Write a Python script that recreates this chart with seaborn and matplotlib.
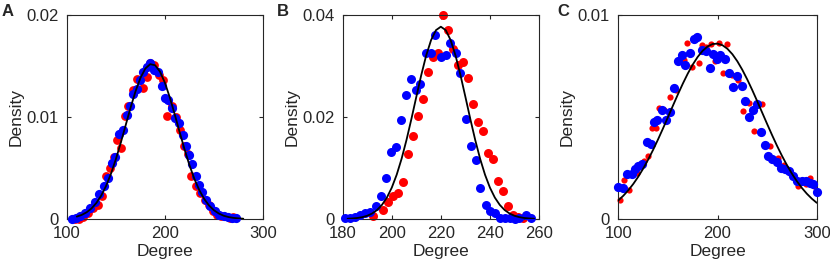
import numpy as np
import pandas as pd
import matplotlib
matplotlib.use("Agg")
import matplotlib.pyplot as plt
import seaborn as sns

# ---- panel A data ----
a_red_x = [108.5, 111.9, 116.3, 121.0, 126.4, 131.2, 135.6, 140.0, 144.1, 148.1, 151.5, 154.9,
           159.3, 162.7, 167.1, 171.9, 177.3, 181.4, 184.7, 188.8, 194.2, 198.3, 201.7, 206.8,
           211.2, 215.3, 219.3, 223.7, 227.1, 231.5, 235.6, 240.7, 245.1, 249.2, 253.2, 257.6,
           266.1, 269.5]
a_red_y = [0.0, 0.0, 0.0002, 0.00059, 0.00108, 0.0014, 0.00222, 0.00424, 0.00499, 0.00604,
           0.00776, 0.00695, 0.01011, 0.01109, 0.01266, 0.01374, 0.01289, 0.01396, 0.01533,
           0.0151, 0.01413, 0.01364, 0.01011, 0.01103, 0.00998, 0.00874, 0.00711, 0.00639,
           0.00418, 0.0032, 0.00254, 0.00189, 0.0014, 0.00075, 0.00042, 0.00033, 0.0001, 0.0002]
a_blue_x = [105.1, 109.5, 113.6, 118.6, 123.7, 128.8, 133.2, 138.0, 141.4, 145.8, 149.2, 153.6,
            157.6, 161.0, 164.4, 167.8, 171.2, 174.6, 178.0, 181.4, 184.7, 188.8, 193.2, 196.6,
            200.0, 203.4, 206.8, 210.2, 214.6, 218.0, 221.4, 224.7, 228.1, 231.5, 234.9, 238.3,
            242.4, 246.4, 250.8, 255.3, 260.0, 264.4, 268.8, 272.9]
a_blue_y = [0.0, 0.0001, 0.00026, 0.00059, 0.00108, 0.00166, 0.00248, 0.0032, 0.00401, 0.00548,
            0.00604, 0.00835, 0.00874, 0.01021, 0.01109, 0.01223, 0.01272, 0.01364, 0.01445,
            0.01494, 0.01533, 0.01462, 0.01445, 0.01305, 0.01191, 0.01168, 0.01086, 0.00989,
            0.0094, 0.00825, 0.00711, 0.0063, 0.00542, 0.00424, 0.00336, 0.00261, 0.00189,
            0.00124, 0.00075, 0.00042, 0.00026, 0.00016, 0.00013, 0.00007]
a_fit_x = list(range(110, 285, 5))
a_fit_y = [0.000236, 0.000399, 0.000653, 0.00103, 0.00157, 0.00230, 0.00326, 0.00446, 0.00589,
           0.00750, 0.00922, 0.01094, 0.01252, 0.01383, 0.01475, 0.01518, 0.01507, 0.01444,
           0.01335, 0.01191, 0.01026, 0.00853, 0.00684, 0.00529, 0.00395, 0.00285, 0.00198,
           0.00133, 0.00086, 0.00054, 0.00032, 0.00019, 0.00011, 0.00006, 0.00003]

# ---- panel B data ----
b_red_x = [192.5, 196.3, 198.6, 200.6, 202.6, 204.7, 206.7, 208.7, 210.8, 212.8, 214.8, 216.9,
           218.9, 220.9, 223.0, 225.0, 227.1, 229.1, 231.1, 233.2, 235.2, 237.2, 239.3, 241.3,
           243.3, 245.4, 247.4, 249.4, 251.5, 253.5]
b_red_y = [0.00065, 0.0018, 0.0033, 0.0046, 0.0051, 0.0072, 0.0127, 0.0163, 0.0202, 0.0236,
           0.0288, 0.0317, 0.0326, 0.0399, 0.0371, 0.0333, 0.0302, 0.0307, 0.0276, 0.0225,
           0.0191, 0.0172, 0.0129, 0.0118, 0.0075, 0.0054, 0.0025, 0.0008, 0.0004, 0.0001]
b_blue_x = [181.0, 183.0, 185.0, 187.0, 189.0, 191.1, 193.6, 195.6, 197.6, 199.5, 201.7, 203.6,
            205.8, 207.7, 209.7, 211.7, 213.8, 215.8, 217.8, 219.9, 221.9, 223.9, 226.0, 228.0,
            230.2, 232.2, 234.2, 236.1, 238.3, 239.9, 242.0, 244.0, 246.0, 248.0, 250.1, 252.0,
            254.6, 256.9]
b_blue_y = [0.0001, 0.0002, 0.0004, 0.0007, 0.0012, 0.0014, 0.0025, 0.0046, 0.0080, 0.0132,
            0.0142, 0.0194, 0.0243, 0.0275, 0.0253, 0.0265, 0.0326, 0.0325, 0.0361, 0.0318,
            0.0322, 0.0346, 0.0325, 0.0286, 0.0196, 0.0144, 0.0116, 0.0061, 0.0027, 0.0015,
            0.0012, 0.0002, 0.0002, 0.0002, 0.0, 0.0002, 0.0008, 0.0002]
b_fit_x = list(range(182, 260, 2))
b_fit_y = [0.000054, 0.000106, 0.000200, 0.000363, 0.000636, 0.00108, 0.00176, 0.00277, 0.00420,
           0.00615, 0.00868, 0.01181, 0.01550, 0.01962, 0.02395, 0.02820, 0.03202, 0.03506,
           0.03702, 0.03770, 0.03702, 0.03506, 0.03202, 0.02820, 0.02395, 0.01962, 0.01550,
           0.01181, 0.00868, 0.00615, 0.00420, 0.00277, 0.00176, 0.00108, 0.000636, 0.000363,
           0.000200, 0.000106, 0.000054]

# ---- panel C data ----
c_red_x = [101.7, 105.7, 110.4, 118.5, 126.2, 130.3, 133.6, 138.0, 141.3, 146.0, 152.1, 158.2,
           163.9, 166.6, 169.0, 174.0, 181.7, 184.0, 188.4, 193.4, 197.5, 201.8, 205.2, 209.9,
           214.3, 221.0, 225.4, 232.1, 236.8, 245.2, 253.0, 261.3, 267.0, 273.1, 281.5, 289.2,
           293.3, 297.6]
c_red_y = [0.00095, 0.00192, 0.00144, 0.00225, 0.00282, 0.00307, 0.00445, 0.00445, 0.00546,
           0.00535, 0.00597, 0.00633, 0.0078, 0.00777, 0.00861, 0.00747, 0.00767, 0.00853,
           0.00845, 0.00856, 0.00772, 0.00865, 0.00715, 0.00856, 0.00706, 0.00682, 0.0053,
           0.00568, 0.00429, 0.00564, 0.00356, 0.00299, 0.00266, 0.00225, 0.0016, 0.00171,
           0.00201, 0.0016]
c_blue_x = [100.0, 104.4, 108.4, 113.4, 116.8, 120.2, 123.5, 128.6, 132.6, 136.0, 139.3, 143.7,
            148.1, 152.1, 156.1, 159.8, 163.9, 167.2, 172.3, 176.3, 179.7, 184.0, 188.4, 192.4,
            195.8, 199.2, 202.5, 207.6, 211.6, 215.9, 220.0, 224.4, 227.7, 231.8, 236.1, 240.2,
            243.5, 247.9, 251.3, 254.6, 259.7, 263.7, 268.1, 272.4, 276.5, 280.5, 284.9, 289.2,
            293.3, 296.6, 300.0]
c_blue_y = [0.00157, 0.00152, 0.00222, 0.00222, 0.00245, 0.00258, 0.00269, 0.00375, 0.00369,
            0.00475, 0.00486, 0.00535, 0.00483, 0.00524, 0.00641, 0.00772, 0.00804, 0.00755,
            0.00812, 0.00881, 0.00894, 0.00829, 0.00824, 0.00742, 0.00809, 0.00783, 0.00804,
            0.00783, 0.00718, 0.00646, 0.00701, 0.00653, 0.00579, 0.00499, 0.00535, 0.00564,
            0.00424, 0.00361, 0.0031, 0.00294, 0.00279, 0.0025, 0.00245, 0.00237, 0.00209,
            0.00188, 0.00188, 0.00184, 0.00176, 0.00173, 0.00131]
c_fit_x = list(range(100, 305, 5))
c_fit_y = [0.000913, 0.001139, 0.001406, 0.001715, 0.002068, 0.002466, 0.002906, 0.003385,
           0.003898, 0.004437, 0.004991, 0.005552, 0.006104, 0.006634, 0.007128, 0.007569,
           0.007946, 0.008246, 0.008457, 0.008576, 0.008596, 0.008517, 0.008341, 0.008075,
           0.007728, 0.007311, 0.006836, 0.006320, 0.005775, 0.005216, 0.004658, 0.004111,
           0.003586, 0.003093, 0.002637, 0.002222, 0.001851, 0.001524, 0.001241, 0.000999,
           0.000794]

panels = [
    dict(letter="A", rx=a_red_x, ry=a_red_y, bx=a_blue_x, by=a_blue_y, fx=a_fit_x, fy=a_fit_y,
         xlim=(100, 300), xticks=[100, 200, 300], ylim=(0, 0.02), yticks=[0, 0.01, 0.02],
         rsize=40, bsize=44, pos=[0.0807, 0.1767, 0.236, 0.767], lx=0.002),
    dict(letter="B", rx=b_red_x, ry=b_red_y, bx=b_blue_x, by=b_blue_y, fx=b_fit_x, fy=b_fit_y,
         xlim=(180, 260), xticks=[180, 200, 220, 240, 260], ylim=(0, 0.04), yticks=[0, 0.02, 0.04],
         rsize=42, bsize=42, pos=[0.4129, 0.1767, 0.2365, 0.767], lx=0.334),
    dict(letter="C", rx=c_red_x, ry=c_red_y, bx=c_blue_x, by=c_blue_y, fx=c_fit_x, fy=c_fit_y,
         xlim=(100, 300), xticks=[100, 200, 300], ylim=(0, 0.01), yticks=[0, 0.01],
         rsize=20, bsize=44, pos=[0.745, 0.1767, 0.239, 0.767], lx=0.671),
]

sns.set_theme(style="ticks")
plt.rcParams['font.family'] = ['Liberation Sans', 'DejaVu Sans']

fig = plt.figure(figsize=(8.3, 2.66), dpi=100)

for p in panels:
    ax = fig.add_axes(p["pos"])
    red = pd.DataFrame({"x": p["rx"], "y": p["ry"]})
    blue = pd.DataFrame({"x": p["bx"], "y": p["by"]})
    fit = pd.DataFrame({"x": p["fx"], "y": p["fy"]})
    sns.scatterplot(data=red, x="x", y="y", ax=ax, color="#ff0000", s=p["rsize"],
                    linewidth=0, clip_on=False, zorder=2)
    sns.scatterplot(data=blue, x="x", y="y", ax=ax, color="#0000ff", s=p["bsize"],
                    linewidth=0, clip_on=False, zorder=3)
    sns.lineplot(data=fit, x="x", y="y", ax=ax, color="black", linewidth=1.3, zorder=4)
    ax.set_xlim(*p["xlim"])
    ax.set_ylim(*p["ylim"])
    ax.set_xticks(p["xticks"])
    ax.set_yticks(p["yticks"])
    ax.set_yticklabels(["{:g}".format(v) for v in p["yticks"]])
    ax.set_xlabel("Degree", fontsize=12.5, labelpad=2.5)
    ax.set_ylabel("Density", fontsize=12.5, labelpad=2)
    ax.tick_params(direction="in", length=3, width=0.8, labelsize=12,
                   top=True, right=True, color="#262626")
    ax.tick_params(axis="x", pad=5)
    ax.tick_params(axis="y", pad=6)
    for sp in ax.spines.values():
        sp.set_visible(True)
        sp.set_linewidth(0.8)
        sp.set_color("#262626")
    fig.text(p["lx"], 0.985, p["letter"], fontsize=12, fontweight="bold", va="top", ha="left")

fig.savefig("out.png", dpi=100)
